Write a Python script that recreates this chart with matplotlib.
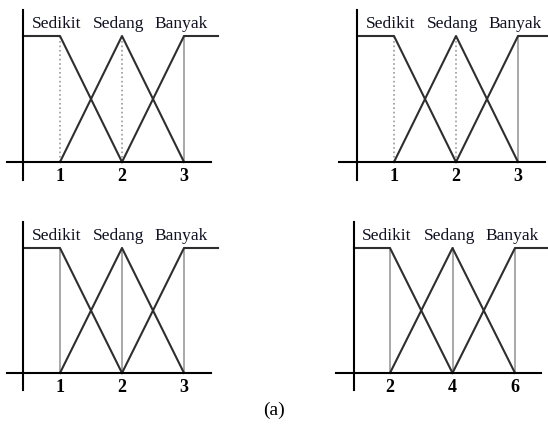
import matplotlib
matplotlib.use("Agg")
from matplotlib import pyplot as plt

W, H = 548, 432

# data for the four panels
labels = ["Sedikit", "Sedang", "Banyak"]
ticks_a = [1, 2, 3]
ticks_b = [2, 4, 6]
panel_ticks = [ticks_a, ticks_a, ticks_a, ticks_b]
guide_style = ["dotted", "dotted", "solid", "solid"]

# pixel layout: (left, right, top, bottom, x-axis y, plateau y, y-axis x)
layout = [
    (7, 211, 10, 180, 162, 36, 23),
    (339, 545, 10, 180, 162, 36, 357),
    (7, 211, 222, 390, 373, 248, 23),
    (336, 541, 222, 390, 373, 248, 354),
]
tick_px = [(60, 184), (394, 518), (60, 184), (390, 515)]

plt.rcParams['font.family'] = ['Liberation Serif', 'DejaVu Serif']

fig = plt.figure(figsize=(W / 100, H / 100), dpi=100)


def draw_panel(i):
    left, right, top, bottom, xax, plat, yax = layout[i]
    t = panel_ticks[i]
    p0, p2 = tick_px[i]
    unit = (p2 - p0) / (t[2] - t[0])  # px per data unit
    yunit = xax - plat
    ax = fig.add_axes([left / W, 1 - bottom / H, (right - left) / W, (bottom - top) / H])
    ax.set_xlim(t[0] - (p0 - left) / unit, t[0] + (right - p0) / unit)
    ax.set_ylim(-(bottom - xax) / yunit, (xax - top) / yunit)
    ystart = t[0] - (p0 - yax) / unit
    xend = t[2] + 34 / unit

    lc = "#2e2e2e"
    # Sedikit
    ax.plot([ystart, t[0], t[1]], [1, 1, 0], color=lc, lw=1.5, clip_on=False)
    # Sedang
    ax.plot([t[0], t[1], t[2]], [0, 1, 0], color=lc, lw=1.5, clip_on=False)
    # Banyak
    ax.plot([t[1], t[2], xend], [0, 1, 1], color=lc, lw=1.5, clip_on=False)

    for k, x in enumerate(t):
        ls = guide_style[i] if k < 2 else "solid"
        ax.plot([x, x], [0, 1], color="#9a9a9a", lw=1.2, ls=ls, zorder=1)
        ax.text(x - 3 / unit, 1 + 12 / yunit, labels[k], ha="center", va="center",
                fontsize=12.5, color="#111122")

    for s in ["top", "right"]:
        ax.spines[s].set_visible(False)
    ax.spines["left"].set_position(("data", ystart))
    ax.spines["bottom"].set_position(("data", 0))
    ax.spines["left"].set_linewidth(1.5)
    ax.spines["bottom"].set_linewidth(1.5)
    ax.set_yticks([])
    ax.set_xticks(t)
    ax.set_xticklabels([str(v) for v in t], fontweight="bold", fontsize=13)
    ax.tick_params(axis="x", length=0, pad=4)
    ax.patch.set_visible(False)


for i in range(4):
    draw_panel(i)

fig.text(274 / W, 1 - 410 / H, "(a)", ha="center", va="center", fontsize=14)

fig.savefig("out.png", dpi=100)
